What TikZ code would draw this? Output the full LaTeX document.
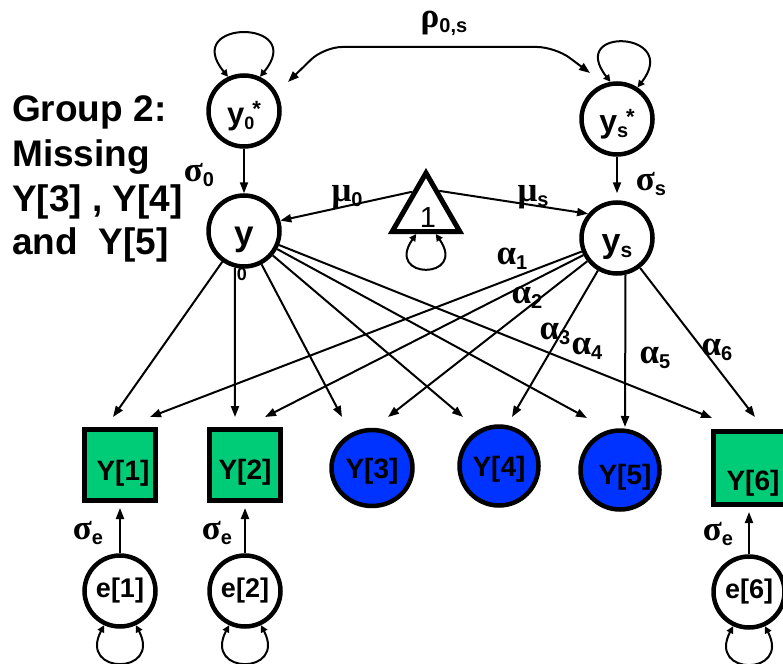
\documentclass[tikz,border=0pt]{standalone}
\usepackage{fontspec}
\setmainfont{Liberation Sans}
\newfontfamily\grk{Liberation Serif}
\usetikzlibrary{arrows.meta,calc,shapes.geometric}
\definecolor{boxgreen}{RGB}{0,204,120}
\definecolor{obsblue}{RGB}{0,51,255}
\newcommand{\myfs}[1]{\fontsize{#1}{#1}\selectfont}
\newcommand{\mysb}[2][18]{\raisebox{-5pt}{\bfseries\myfs{#1}#2}}
\newcommand{\mysup}[2][22]{\raisebox{9pt}{\bfseries\myfs{#1}#2}}
\newcommand{\grklbl}[2]{{\grk\bfseries\myfs{35}#1}\mysb[20]{#2}}
\begin{document}
\begin{tikzpicture}[x=1pt,y=-1pt,
  conn/.style={line width=2pt,-{Triangle[length=11pt,width=8pt]}},
  twoway/.style={line width=2pt,{Triangle[length=11pt,width=8pt]}-{Triangle[length=11pt,width=8pt]}},
  loopy/.style={line width=2pt,{Triangle[length=7pt,width=7pt]}-{Triangle[length=7pt,width=7pt]}},
  circnode/.style={circle,draw,line width=4.5pt,minimum size=71pt,inner sep=0pt,fill=white,font=\bfseries},
  latent/.style={circnode,text height=28pt,text depth=0pt},
  obsbox/.style={rectangle,draw,line width=5pt,fill=boxgreen,minimum size=71pt,inner sep=0pt},
  obscirc/.style={circle,draw,line width=4.5pt,fill=obsblue,minimum size=79pt,inner sep=0pt},
  lbl/.style={font=\bfseries\myfs{28},inner sep=0pt},
  glbl/.style={inner sep=0pt},
  grp/.style={anchor=base west,font=\bfseries\myfs{37},inner sep=0pt}]
\useasboundingbox (0,0) rectangle (783,663);

% group text
\node[grp] (g1) at (12,122) {Group 2:};
\node[grp] (g2) at (12,167) {Missing};
\node[grp] (g3) at (12,211) {Y[3] , Y[4]};
\node[grp] (g4) at (12,254) {and\ \ Y[5]};

% latent nodes
\node[latent] (y0s) at (244,111) {{\myfs{31}y}\mysb{0}\hspace{-2pt}\mysup{*}};
\node[latent] (yss) at (617,119) {{\myfs{32}y}\mysb[20]{s}\hspace{-2pt}\mysup{*}};
\node[latent] (y) at (244,231) {\myfs{35}y};
\node[latent] (ys) at (617,238) {{\myfs{34}y}\mysb[21]{s}};
\node[regular polygon,regular polygon sides=3,draw,line width=5pt,minimum size=78pt,inner sep=0pt,
  label={[font=\myfs{29},xshift=2pt,yshift=-6pt]center:1}] (tri) at (426,212) {};

% observed nodes
\node[obsbox,label={[lbl,xshift=3pt,yshift=-8pt]center:Y[1]}] (Y1) at (120,465) {};
\node[obsbox,label={[lbl,yshift=-7pt]center:Y[2]}] (Y2) at (245,465) {};
\node[obscirc,minimum width=81pt,minimum height=76pt,ellipse,label={[lbl,yshift=-3pt]center:Y[3]}] (Y3) at (372,468) {};
\node[obscirc,label={[lbl,yshift=-3pt]center:Y[4]}] (Y4) at (499,466) {};
\node[obscirc,label={[lbl,xshift=5pt,yshift=-7pt]center:Y[5]}] (Y5) at (620,470) {};
\node[obsbox,minimum size=73pt,label={[lbl,xshift=3pt,yshift=-15pt]center:Y[6]}] (Y6) at (750,468) {};

% error nodes
\node[circnode] (e1) at (120,591) {\myfs{27}e[1]};
\node[circnode] (e2) at (245,591) {\myfs{27}e[2]};
\node[circnode] (e6) at (749,592) {\myfs{27}e[6]};

% self loops
\draw[loopy] (y0s.115) .. controls +(-48,-58) and +(48,-58) .. (y0s.65);
\draw[loopy] (yss.100) .. controls +(-44,-56) and +(44,-56) .. (yss.57);
\draw[loopy] (tri.246) .. controls +(-32,46) and +(32,46) .. (tri.294);
\draw[loopy] (e1.245) .. controls +(-26,50) and +(26,50) .. (e1.295);
\draw[loopy] (e2.245) .. controls +(-26,50) and +(26,50) .. (e2.295);
\draw[loopy] (e6.245) .. controls +(-26,50) and +(26,50) .. (e6.295);

% covariance
\draw[twoway,rounded corners=18pt] ($(y0s)+(44,-29)$) -- ($(y0s)+(80,-64)$) -- ($(yss)+(-62,-72)$) -- ($(yss)+(-27,-46)$);

% top arrows
\draw[conn] (y0s) -- (y);
\draw[conn,shorten >=7pt] (yss) -- (ys);
\draw[conn] (tri.124) -- (y.16);
\draw[conn] (tri.58) -- (ys.140);

% loadings from y
\draw[conn] (y) -- ($(Y1)+(-7,-48)$);
\draw[conn] (y.256) -- ($(Y2)+(-10,-48)$);
\draw[conn] (y) -- ($(Y3)+(-30,-51)$);
\draw[conn] (y) -- ($(Y4)+(-36,-49)$);
\draw[conn] (y) -- ($(Y5)+(-33,-52)$);
\draw[conn] (y) -- ($(Y6)+(-38,-50)$);
% loadings from ys
\draw[conn] (ys) -- ($(Y1)+(30,-48)$);
\draw[conn] (ys) -- ($(Y2)+(20,-48)$);
\draw[conn] (ys) -- ($(Y3)+(16,-51)$);
\draw[conn] (ys) -- ($(Y4)+(13,-49)$);
\draw[conn] (ys.283) -- ($(Y5)+(5,-43)$);
\draw[conn] (ys) -- ($(Y6)+(5,-51)$);

% errors
\draw[conn,shorten >=5pt] (e1) -- (Y1);
\draw[conn,shorten >=5pt] (e2) -- (Y2);
\draw[conn,shorten >=5pt] (e6) -- (Y6.south -| e6);

% labels
\node[glbl] (l0sub) at (242,274) {\bfseries\myfs{18}0};
\node[glbl] (lrho) at (444,23) {{\grk\bfseries\myfs{35}ρ}\mysb[20]{0,s}};
\node[glbl] (ls0) at (199,175) {\grklbl{σ}{0}};
\node[glbl] (lss) at (651,184) {\grklbl{σ}{s}};
\node[glbl] (lm0) at (347,197) {\grklbl{μ}{0}};
\node[glbl] (lms) at (533,197) {\grklbl{μ}{s}};
\node[glbl] (la1) at (512,259) {\grklbl{α}{1}};
\node[glbl] (la2) at (527,298) {\grklbl{α}{2}};
\node[glbl] (la3) at (555,334) {\grklbl{α}{3}};
\node[glbl] (la4) at (587,349) {\grklbl{α}{4}};
\node[glbl] (la5) at (655,358) {\grklbl{α}{5}};
\node[glbl] (la6) at (717,350) {\grklbl{α}{6}};
\node[glbl] (le1) at (88,533) {\grklbl{σ}{e}};
\node[glbl] (le2) at (217,533) {\grklbl{σ}{e}};
\node[glbl] (le6) at (718,534) {\grklbl{σ}{e}};
\end{tikzpicture}
\end{document}
